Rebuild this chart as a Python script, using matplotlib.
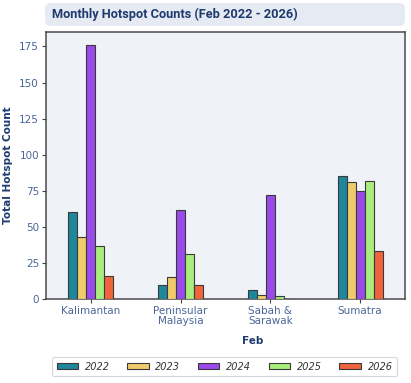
import matplotlib
matplotlib.use("Agg")
import matplotlib.pyplot as plt
import numpy as np
from matplotlib.patches import FancyBboxPatch

regions = ["Kalimantan", "Peninsular\nMalaysia", "Sabah &\nSarawak", "Sumatra"]
years = ["2022", "2023", "2024", "2025", "2026"]
v2022 = [60, 10, 6, 85]
v2023 = [43, 15, 3, 81]
v2024 = [176, 62, 72, 75]
v2025 = [37, 31, 2, 82]
v2026 = [16, 10, 0, 33]
series = [v2022, v2023, v2024, v2025, v2026]
colors = ["#1f879c", "#efcb6b", "#9a4ae8", "#a9ee7c", "#f0643c"]
yticks = [0, 25, 50, 75, 100, 125, 150, 175]

W, H = 411, 383
fig = plt.figure(figsize=(W / 100, H / 100), dpi=100)
fig.patch.set_facecolor("white")

ax = fig.add_axes([46 / W, 1 - 299 / H, 359 / W, 267 / H])
ax.set_facecolor("#eff2f7")

x = np.arange(len(regions))
bw = 0.1
for i, (vals, c) in enumerate(zip(series, colors)):
    ax.bar(x + (i - 2) * bw, vals, width=bw, color=c, edgecolor="#3a3a3a",
           linewidth=0.8, label=years[i], zorder=3)

ax.set_xlim(-0.5, 3.5)
ax.set_ylim(0, 185)
ax.set_yticks(yticks)
ax.set_xticks(x)
ax.set_xticklabels(regions, linespacing=1.0)
tick_col = "#4a6799"
ax.tick_params(axis="both", colors="#444444", labelcolor=tick_col, labelsize=7.5,
               length=3, width=0.8, pad=2)
for s in ax.spines.values():
    s.set_color("#4a4a4a")
    s.set_linewidth(1.1)

navy = "#1f3a6e"
ax.set_xlabel("Feb", fontsize=7.5, fontweight="bold", color=navy)
ax.xaxis.set_label_coords(207 / 359, -(336 - 299) / 267)
ax.set_ylabel("Total Hotspot Count", fontsize=7.5, fontweight="bold", color=navy)
ax.yaxis.set_label_coords(-(46 - 13) / 359, 0.5)

# Title box
box = FancyBboxPatch((45 / W, 1 - 26 / H), 360 / W, 23 / H,
                     boxstyle="round,pad=0,rounding_size=0.015",
                     transform=fig.transFigure, facecolor="#e6eaf2",
                     edgecolor="none", zorder=0)
fig.patches.append(box)
fig.text(52 / W, 1 - 14.5 / H, "Monthly Hotspot Counts (Feb 2022 - 2026)",
         fontsize=9.2, fontweight="bold", color=navy, va="center", ha="left",
         family=["Roboto", "DejaVu Sans"])

leg = fig.legend(loc="center", bbox_to_anchor=(224.5 / W, 1 - 366.5 / H), ncol=5,
                 frameon=True, handlelength=2.2, handleheight=0.6,
                 columnspacing=1.8, handletextpad=0.7, borderpad=0.45,
                 prop={"style": "italic", "size": 7})
leg.get_frame().set_edgecolor("#cccccc")
leg.get_frame().set_linewidth(0.8)
for t in leg.get_texts():
    t.set_color("#333333")

fig.savefig("out.png", dpi=100)
